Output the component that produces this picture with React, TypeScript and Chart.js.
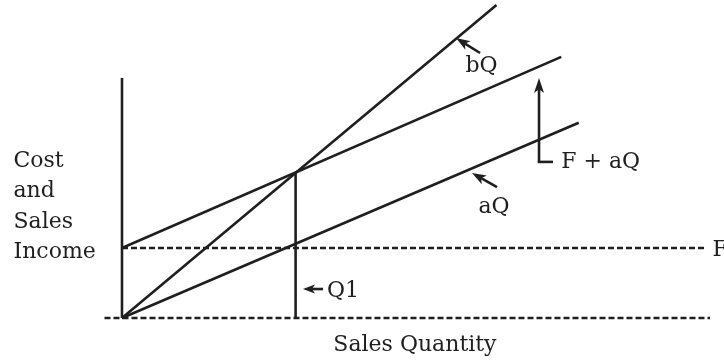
import React, { useEffect, useRef } from "react";
import { Chart, registerables } from "chart.js";

Chart.register(...registerables);

// Line endpoints (x: sales quantity units, Q1 ≈ 10; y: cost units, F = 10)
const bQX = [0, 21.4];
const bQY = [0, 44.7];
const fPlusAQX = [0, 25.1];
const fPlusAQY = [10, 37.3];
const aQX = [0, 26.1];
const aQY = [0, 27.9];
const fixedX = [0, 33.4];
const fixedY = [10, 10];
const baseX = [-1, 33.6];
const baseY = [0, 0];
const axisX = [0, 0];
const axisY = [0, 34.3];
const q1X = [9.92, 9.92];
const q1Y = [0, 20.7];

// Arrow annotations: [tailX, tailY, tipX, tipY]
const arrowBQ = [20.46, 37.86, 19.09, 40.0];
const arrowAQ = [21.43, 18.7, 20.0, 20.7];
const arrowFAQ = [23.83, 22.3, 23.83, 34.3];
const arrowFAQFoot = [24.63, 22.3];
const arrowQ1 = [11.49, 4.14, 10.34, 4.14];

// Labels: text, x, y (alphabetic baseline), align
const labelTexts = ["bQ", "aQ", "F + aQ", "Q1", "F", "Sales Quantity"];
const labelX = [20.54, 21.26, 25.1, 11.71, 33.75, 16.74];
const labelY = [35.14, 15.0, 21.43, 3.0, 8.86, -4.71];
const labelAlign = ["center", "center", "left", "left", "left", "center"];
const sideTitle = ["Cost", "and", "Sales", "Income"];
const sideTitleX = -6.2;
const sideTitleY = [21.57, 17.29, 12.86, 8.57];

const INK = "#1f1f1f";
const FONT = '22px "DejaVu Serif"';
const LW = 2.6;

const toXY = (xs: number[], ys: number[]) => xs.map((x, i) => ({ x, y: ys[i] }));

const annotationPlugin = {
  id: "annotations",
  afterDatasetsDraw(chart: any) {
    const { ctx } = chart;
    const xs = chart.scales.x;
    const ys = chart.scales.y;
    const px = (v: number) => xs.getPixelForValue(v);
    const py = (v: number) => ys.getPixelForValue(v);
    ctx.save();
    ctx.strokeStyle = INK;
    ctx.fillStyle = INK;
    ctx.lineWidth = LW;
    ctx.lineCap = "butt";

    const arrow = (a: number[], headLen = 14, headW = 5) => {
      const x1 = px(a[0]), y1 = py(a[1]), x2 = px(a[2]), y2 = py(a[3]);
      const ang = Math.atan2(y2 - y1, x2 - x1);
      const bx = x2 - Math.cos(ang) * headLen * 0.75;
      const by = y2 - Math.sin(ang) * headLen * 0.75;
      ctx.beginPath();
      ctx.moveTo(x1, y1);
      ctx.lineTo(bx, by);
      ctx.stroke();
      ctx.beginPath();
      ctx.moveTo(x2, y2);
      ctx.lineTo(x2 - Math.cos(ang) * headLen - Math.sin(ang) * headW, y2 - Math.sin(ang) * headLen + Math.cos(ang) * headW);
      ctx.lineTo(bx, by);
      ctx.lineTo(x2 - Math.cos(ang) * headLen + Math.sin(ang) * headW, y2 - Math.sin(ang) * headLen - Math.cos(ang) * headW);
      ctx.closePath();
      ctx.fill();
    };

    arrow(arrowBQ);
    arrow(arrowAQ);
    arrow(arrowQ1, 12, 4.5);
    arrow(arrowFAQ, 15, 5);
    // foot of the F + aQ arrow
    ctx.beginPath();
    ctx.moveTo(px(arrowFAQ[0]) - LW / 2, py(arrowFAQ[1]));
    ctx.lineTo(px(arrowFAQFoot[0]), py(arrowFAQFoot[1]));
    ctx.stroke();

    ctx.font = FONT;
    ctx.textBaseline = "alphabetic";
    labelTexts.forEach((t, i) => {
      ctx.textAlign = labelAlign[i] as CanvasTextAlign;
      ctx.fillText(t, px(labelX[i]), py(labelY[i]));
    });
    ctx.textAlign = "left";
    sideTitle.forEach((t, i) => {
      ctx.fillText(t, px(sideTitleX), py(sideTitleY[i]));
    });
    ctx.restore();
  },
};

export default function App() {
  const ref = useRef<HTMLCanvasElement | null>(null);
  useEffect(() => {
    document.body.style.margin = "0";
    if (!ref.current) return;
    const solid = (xs: number[], ys: number[]) => ({
      data: toXY(xs, ys),
      showLine: true,
      borderColor: INK,
      borderWidth: LW,
      pointRadius: 0,
      clip: false as any,
    });
    const dashed = (xs: number[], ys: number[]) => ({
      ...solid(xs, ys),
      borderDash: [6, 3],
    });
    const chart = new Chart(ref.current, {
      type: "scatter",
      data: {
        datasets: [
          dashed(baseX, baseY),
          dashed(fixedX, fixedY),
          solid(axisX, axisY),
          solid(bQX, bQY),
          solid(fPlusAQX, fPlusAQY),
          solid(aQX, aQY),
          solid(q1X, q1Y),
        ],
      },
      options: {
        animation: false,
        responsive: false,
        layout: { padding: 0 },
        scales: {
          x: { type: "linear", min: -6.971, max: 34.4, display: false },
          y: { type: "linear", min: -6, max: 45.43, display: false },
        },
        plugins: { legend: { display: false }, tooltip: { enabled: false } },
      },
      plugins: [annotationPlugin],
    });
    return () => chart.destroy();
  }, []);
  return (
    <div style={{ width: 724, height: 360, background: "#fff" }}>
      <canvas ref={ref} width={724} height={360} style={{ display: "block" }} />
    </div>
  );
}
